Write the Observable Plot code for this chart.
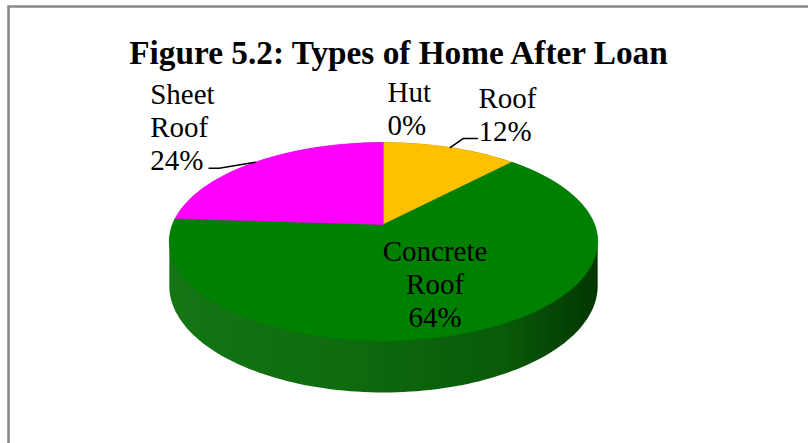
<!DOCTYPE html>
<html><head><meta charset="utf-8">
<script src="https://cdn.jsdelivr.net/npm/d3@7"></script>
<script src="https://cdn.jsdelivr.net/npm/@observablehq/plot@0.6"></script>
<style>body{margin:0;background:#fff}</style>
</head><body><div id="chart"></div>
<script>
const title = "Figure 5.2: Types of Home After Loan";
const categories = ["Hut", "Roof", "Concrete Roof", "Sheet Roof"];
const shares = [0, 12, 64, 24];
const sliceColors = ["#7F7F7F", "#FFC000", "#008000", "#FF00FF"];
const labelTexts = ["Hut\n0%", "Roof\n12%", "Concrete\nRoof\n64%", "Sheet\nRoof\n24%"];

const W = 808, H = 443;
const FONT = "Liberation Serif, Times New Roman, serif";
// pie projection (layout)
const G = {cx: 383, cy: 224, A: 211, B: 96.1, k: 0.1717, depth: 43};
function proj(a, r, h) {
  const u = r * Math.sin(a), v = r * Math.cos(a);
  const d = 1 / (1 + G.k * v);
  return {x: G.cx + G.A * u * d, y: G.cy - G.B * v * d + h * d};
}
// label layout: kind, offsets
const labelLayout = [
  {kind: "out", dx: 4, dy: -7, leader: false},
  {kind: "out", elbow: [13, -9], end: [14, 0], tx: 1, ty: 3, leader: true},
  {kind: "in", r: 0.6},
  {kind: "out", elbow: [-36, 6], end: [-10, 0], tx: -59, ty: 2, leader: true}
];

const arcs = d3.pie().sort(null).value(d => d)(shares);

const N = 240;
const slices = [];
arcs.forEach((arc, i) => {
  if (shares[i] <= 0) return;
  const pts = [proj(0, 0, 0)];
  const n = Math.max(2, Math.ceil(N * (arc.endAngle - arc.startAngle) / (2 * Math.PI)));
  for (let j = 0; j <= n; j++) {
    const a = arc.startAngle + (arc.endAngle - arc.startAngle) * j / n;
    pts.push(proj(a, 1, 0));
  }
  slices.push({color: sliceColors[i], points: pts});
});

// side (hull of top and bottom discs)
const rimPts = [];
for (let j = 0; j < N; j++) {
  const a = 2 * Math.PI * j / N;
  const t = proj(a, 1, 0), b = proj(a, 1, G.depth);
  rimPts.push([t.x, t.y], [b.x, b.y]);
}
const hull = d3.polygonHull(rimPts).map(p => ({x: p[0], y: p[1]}));

// labels
const textRows = [], leaders = [];
arcs.forEach((arc, i) => {
  const L = labelLayout[i];
  const mid = (arc.startAngle + arc.endAngle) / 2;
  if (L.kind === "in") {
    const p = proj(mid, L.r, 0);
    textRows.push({x: p.x, y: p.y, text: labelTexts[i], anchor: "middle", line: "middle"});
  } else {
    const e = proj(mid, 1, 0);
    if (L.leader) {
      const el = {x: e.x + L.elbow[0], y: e.y + L.elbow[1]};
      const en = {x: el.x + L.end[0], y: el.y + L.end[1]};
      leaders.push({key: i, x: e.x, y: e.y}, {key: i, x: el.x, y: el.y}, {key: i, x: en.x, y: en.y});
      textRows.push({x: en.x + L.tx, y: en.y + L.ty, text: labelTexts[i], anchor: "start", line: "bottom"});
    } else {
      textRows.push({x: e.x + L.dx, y: e.y + L.dy, text: labelTexts[i], anchor: "start", line: "bottom"});
    }
  }
});

const txt = (rows, anchor, line) => Plot.text(rows.filter(r => r.anchor === anchor && r.line === line), {
  x: "x", y: "y", text: "text", textAnchor: anchor, lineAnchor: line,
  fontSize: 29, lineHeight: 1.14, fontFamily: FONT, fill: "#000"
});

const svg = Plot.plot({
  width: W, height: H, margin: 0,
  x: {domain: [0, W], range: [0, W], axis: null},
  y: {domain: [0, H], range: [0, H], axis: null},
  style: {background: "#fff", overflow: "hidden"},
  marks: [
    Plot.frame({stroke: "#888", strokeWidth: 2.5, insetLeft: 8, insetTop: 6, insetRight: -20, insetBottom: -20}),
    Plot.line(hull, {x: "x", y: "y", fill: "url(#sideGrad)", stroke: "none"}),
    ...slices.map(s => Plot.line(s.points, {x: "x", y: "y", fill: s.color, stroke: s.color, strokeWidth: 0.6})),
    Plot.line(leaders, {x: "x", y: "y", z: "key", stroke: "#000", strokeWidth: 1.6}),
    txt(textRows, "start", "bottom"),
    txt(textRows, "middle", "middle"),
    Plot.text([title], {x: () => 398, y: () => 63, text: d => d, textAnchor: "middle", lineAnchor: "bottom",
      fontSize: 33.3, fontWeight: "bold", fontFamily: FONT, fill: "#000"})
  ]
});

const defs = d3.create("svg:defs");
const grad = defs.append("linearGradient").attr("id", "sideGrad")
  .attr("gradientUnits", "userSpaceOnUse")
  .attr("x1", G.cx - G.A * 1.02).attr("x2", G.cx + G.A * 1.02).attr("y1", 0).attr("y2", 0);
[["0%", "#137613"], ["45%", "#0d6a0d"], ["78%", "#095a09"], ["100%", "#023602"]]
  .forEach(([o, c]) => grad.append("stop").attr("offset", o).attr("stop-color", c));
svg.insertBefore(defs.node(), svg.firstChild);
document.getElementById("chart").appendChild(svg);
</script>
</body></html>
